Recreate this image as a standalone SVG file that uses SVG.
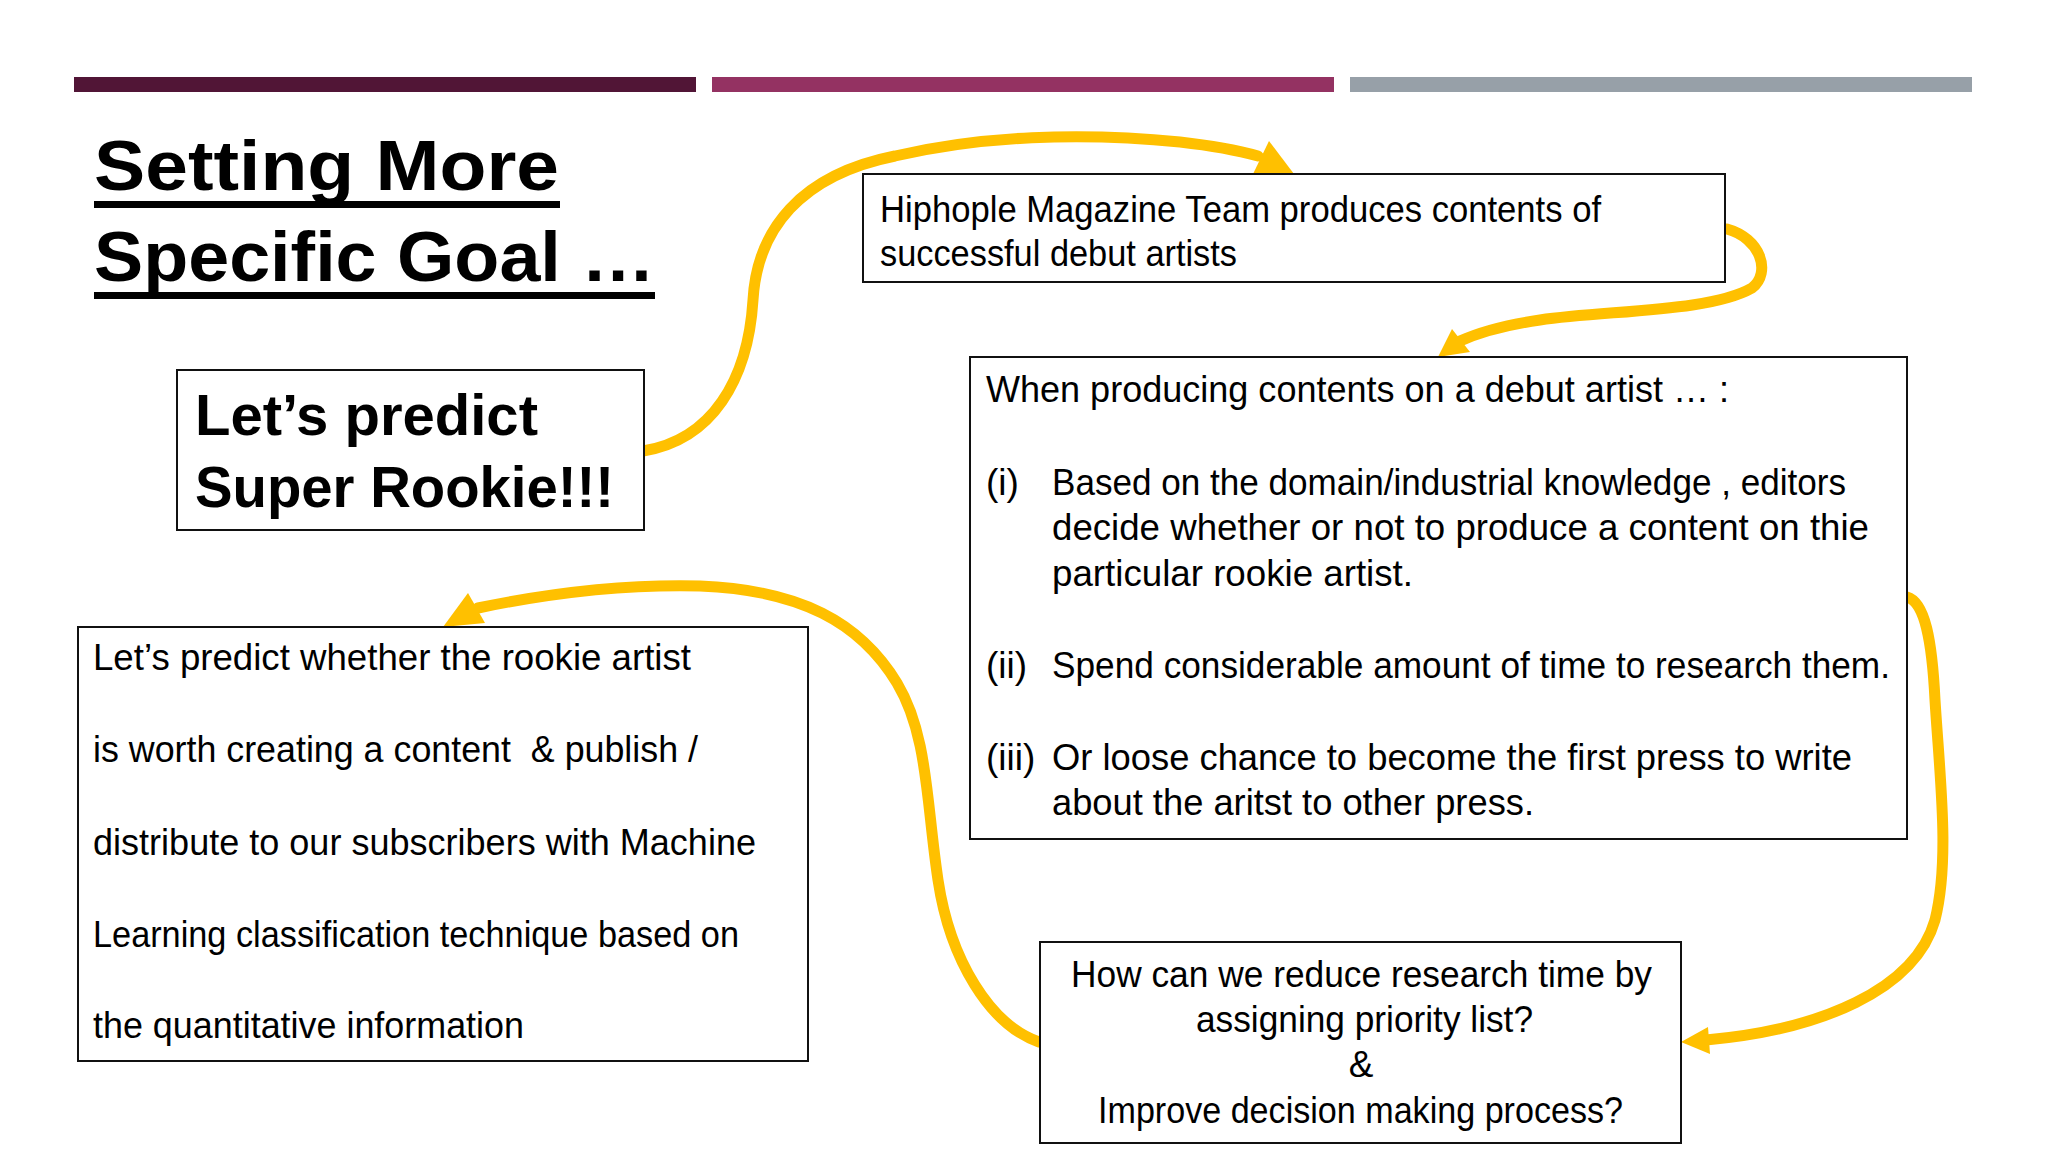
<svg xmlns="http://www.w3.org/2000/svg" width="2048" height="1152" viewBox="0 0 2048 1152">
<style>
.box{fill:#fff;stroke:#111;stroke-width:2}
.t{font-family:"Liberation Sans",Arial,sans-serif;font-size:37px;fill:#000}
.b{font-family:"Liberation Sans",Arial,sans-serif;font-weight:bold;fill:#000}
.conn{fill:none;stroke:#FFC000;stroke-width:11;stroke-linecap:round}
.head{fill:#FFC000}
</style>
<rect width="2048" height="1152" fill="#fff"/>
<g id="bars">
<rect x="74" y="77" width="622" height="15" fill="#511536"/>
<rect x="712" y="77" width="622" height="15" fill="#943262"/>
<rect x="1350" y="77" width="622" height="15" fill="#97A0A8"/>
</g>
<g id="title">
<text class="b" x="94" y="190" font-size="70" textLength="465" lengthAdjust="spacingAndGlyphs">Setting More</text>
<rect x="94" y="201" width="466" height="7" fill="#000"/>
<text class="b" x="94" y="281" font-size="70" textLength="561" lengthAdjust="spacingAndGlyphs">Specific Goal …</text>
<rect x="94" y="292" width="561" height="7" fill="#000"/>
</g>
<g id="connectors">
<path class="conn" d="M643,451 C712,440 748,380 753,300 C757,230 800,175 895,156 C980,136 1080,132 1180,142 C1215,146 1240,151 1258,156"/>
<polygon class="head" points="1269,141 1294,174 1253,174"/>
<path class="conn" d="M1727,229 C1760,238 1772,272 1752,288 C1710,312 1610,310 1540,320 C1505,325 1480,332 1460,341"/>
<polygon class="head" points="1438,357 1452,329 1470,352"/>
<path class="conn" d="M1907,597 C1925,602 1932,640 1935,700 C1940,780 1950,860 1935,920 C1915,990 1820,1030 1706,1040"/>
<polygon class="head" points="1681,1042 1708,1027 1710,1054"/>
<path class="conn" d="M1039,1042 C990,1025 950,960 938,880 C926,800 928,735 897,683 C860,622 800,590 700,586 C620,584 545,594 478,608"/>
<polygon class="head" points="468,593 485,623 443,627"/>
</g>
<g id="node-rookie">
<rect class="box" x="177" y="370" width="467" height="160"/>
<text class="b" x="195" y="435" font-size="58" textLength="343" lengthAdjust="spacingAndGlyphs">Let’s predict</text>
<text class="b" x="195" y="507" font-size="58" textLength="419" lengthAdjust="spacingAndGlyphs">Super Rookie!!!</text>
</g>
<g id="node-hiphople">
<rect class="box" x="863" y="174" width="862" height="108"/>
<text class="t" x="880" y="222" textLength="721" lengthAdjust="spacingAndGlyphs">Hiphople Magazine Team produces contents of</text>
<text class="t" x="880" y="266" textLength="357" lengthAdjust="spacingAndGlyphs">successful debut artists</text>
</g>
<g id="node-producing">
<rect class="box" x="970" y="357" width="937" height="482"/>
<text class="t" x="986" y="402" textLength="743" lengthAdjust="spacingAndGlyphs">When producing contents on a debut artist … :</text>
<text class="t" x="986" y="495">(i)</text>
<text class="t" x="1052" y="495" textLength="794" lengthAdjust="spacingAndGlyphs">Based on the domain/industrial knowledge , editors</text>
<text class="t" x="1052" y="540" textLength="817" lengthAdjust="spacingAndGlyphs">decide whether or not to produce a content on thie</text>
<text class="t" x="1052" y="586" textLength="361" lengthAdjust="spacingAndGlyphs">particular rookie artist.</text>
<text class="t" x="986" y="678">(ii)</text>
<text class="t" x="1052" y="678" textLength="838" lengthAdjust="spacingAndGlyphs">Spend considerable amount of time to research them.</text>
<text class="t" x="986" y="770">(iii)</text>
<text class="t" x="1052" y="770" textLength="800" lengthAdjust="spacingAndGlyphs">Or loose chance to become the first press to write</text>
<text class="t" x="1052" y="815" textLength="482" lengthAdjust="spacingAndGlyphs">about the aritst to other press.</text>
</g>
<g id="node-predict">
<rect class="box" x="78" y="627" width="730" height="434"/>
<text class="t" x="93" y="670" textLength="598" lengthAdjust="spacingAndGlyphs">Let’s predict whether the rookie artist</text>
<text class="t" x="93" y="762" textLength="605" lengthAdjust="spacingAndGlyphs" xml:space="preserve">is worth creating a content  &amp; publish /</text>
<text class="t" x="93" y="855" textLength="663" lengthAdjust="spacingAndGlyphs">distribute to our subscribers with Machine</text>
<text class="t" x="93" y="947" textLength="646" lengthAdjust="spacingAndGlyphs">Learning classification technique based on</text>
<text class="t" x="93" y="1038" textLength="431" lengthAdjust="spacingAndGlyphs">the quantitative information</text>
</g>
<g id="node-question">
<rect class="box" x="1040" y="942" width="641" height="201"/>
<text class="t" x="1071" y="987" textLength="581" lengthAdjust="spacingAndGlyphs">How can we reduce research time by</text>
<text class="t" x="1196" y="1032" textLength="337" lengthAdjust="spacingAndGlyphs">assigning priority list?</text>
<text class="t" x="1361" y="1077" text-anchor="middle">&amp;</text>
<text class="t" x="1098" y="1123" textLength="525" lengthAdjust="spacingAndGlyphs">Improve decision making process?</text>
</g>
</svg>
